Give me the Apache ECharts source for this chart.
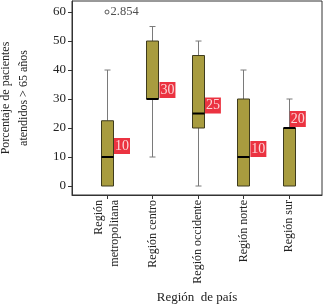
<!DOCTYPE html>
<html>
<head>
<meta charset="utf-8">
<script src="https://cdn.jsdelivr.net/npm/echarts@6/dist/echarts.min.js"></script>
<style>
  html, body { margin: 0; padding: 0; background: #fff; }
  #chart { width: 325px; height: 305px; }
</style>
</head>
<body>
<div id="chart"></div>
<script>
const categories = ['Región\nmetropolitana', 'Región centro', 'Región occidente', 'Región norte', 'Región sur']
const mins = [0, 10, 0, 0, 0]
const q1s = [0, 30, 20, 0, 0]
const medians = [10, 30, 25, 10, 20]
const q3s = [22.5, 50, 45, 30, 20]
const maxs = [40, 55, 50, 40, 30]
const medianLabels = ['10', '30', '25', '10', '20']
const outliers = [[0, 60]]
const outlierLabels = ['2.854']
const yTickValues = [0, 10, 20, 30, 40, 50, 60]
const xTickValues = [0, 1, 2, 3, 4]

const serif = '"Liberation Serif", "DejaVu Serif", serif'
const boxFill = '#a89c3f'
const boxBorder = '#3e3b1e'
const whiskerColor = '#7a7a7a'

// label offsets (px) tweaked per box to sit where the original put them
const labelOffsets = [[0, -11], [0, -9], [0, -8], [0, -8], [-6, -9]]

const boxData = categories.map((c, i) => [i, mins[i], q1s[i], medians[i], q3s[i], maxs[i]])

const renderBox = (params, api) => {
  const i = api.value(0)
  const pMin = api.coord([i, api.value(1)])
  const pQ1 = api.coord([i, api.value(2)])
  const pMed = api.coord([i, api.value(3)])
  const pQ3 = api.coord([i, api.value(4)])
  const pMax = api.coord([i, api.value(5)])
  const cx = Math.round(pMed[0]) + 0.5
  const half = 6
  const cap = 3
  const children = []
  const whisker = { stroke: whiskerColor, lineWidth: 1 }
  if (pMax[1] < pQ3[1]) {
    children.push({ type: 'line', shape: { x1: cx, y1: pMax[1], x2: cx, y2: pQ3[1] }, style: whisker })
    children.push({ type: 'line', shape: { x1: cx - cap, y1: pMax[1], x2: cx + cap, y2: pMax[1] }, style: whisker })
  }
  if (pMin[1] > pQ1[1]) {
    children.push({ type: 'line', shape: { x1: cx, y1: pQ1[1], x2: cx, y2: pMin[1] }, style: whisker })
    children.push({ type: 'line', shape: { x1: cx - cap, y1: pMin[1], x2: cx + cap, y2: pMin[1] }, style: whisker })
  }
  children.push({
    type: 'rect',
    shape: { x: cx - half, y: pQ3[1], width: half * 2, height: pQ1[1] - pQ3[1] },
    style: { fill: boxFill, stroke: boxBorder, lineWidth: 1 }
  })
  children.push({
    type: 'line',
    shape: { x1: cx - half, y1: pMed[1], x2: cx + half, y2: pMed[1] },
    style: { stroke: '#000', lineWidth: 2 }
  })
  return { type: 'group', children }
}

const chart = echarts.init(document.getElementById('chart'))

chart.setOption({
  animation: false,
  grid: {
    left: 72,
    top: 1,
    right: 3,
    bottom: 110,
    outerBoundsMode: 'none',
    containLabel: false,
    show: true,
    borderColor: '#333',
    borderWidth: 1,
    backgroundColor: 'transparent'
  },
  xAxis: {
    type: 'value',
    min: -0.77,
    max: 4.73,
    name: 'Región  de país',
    nameLocation: 'middle',
    nameGap: 88,
    nameTextStyle: { fontFamily: serif, fontSize: 13, color: '#222' },
    axisLine: { show: true, onZero: false, lineStyle: { color: '#333' } },
    axisTick: { show: true, length: 4, customValues: xTickValues, lineStyle: { color: '#333' } },
    axisLabel: {
      rotate: 90,
      margin: 5,
      fontFamily: serif,
      fontSize: 12,
      color: '#222',
      lineHeight: 16,
      customValues: xTickValues,
      formatter: (v) => categories[Math.round(v)]
    },
    splitLine: { show: false }
  },
  yAxis: {
    type: 'value',
    min: -3.1,
    max: 63.8,
    name: 'Porcentaje de pacientes\natendidos > 65 años',
    nameLocation: 'middle',
    nameGap: 39,
    nameTextStyle: { fontFamily: serif, fontSize: 12, color: '#222', lineHeight: 18 },
    axisLine: { show: true, onZero: false, lineStyle: { color: '#333' } },
    axisTick: { show: true, length: 4, customValues: yTickValues, lineStyle: { color: '#333' } },
    axisLabel: { margin: 6, fontFamily: serif, fontSize: 13, color: '#222', customValues: yTickValues },
    splitLine: { show: false }
  },
  series: [
    {
      type: 'custom',
      data: boxData,
      encode: { x: 0, y: [1, 2, 3, 4, 5] },
      renderItem: renderBox
    },
    {
      type: 'scatter',
      symbolSize: 0,
      z: 5,
      data: medians.map((m, i) => ({
        value: [i, m],
        label: { offset: labelOffsets[i], formatter: medianLabels[i] }
      })),
      label: {
        show: true,
        position: 'right',
        distance: 7,
        backgroundColor: '#e60012',
        color: '#fff',
        fontFamily: serif,
        fontSize: 14,
        padding: [1, 1, 0, 1],
        lineHeight: 15
      }
    },
    {
      type: 'scatter',
      symbol: 'circle',
      symbolSize: 4,
      z: 5,
      itemStyle: { color: '#fff', borderColor: '#333', borderWidth: 1 },
      data: outliers.map((o, i) => ({ value: o, label: { formatter: outlierLabels[i] } })),
      label: {
        show: true,
        position: 'right',
        distance: 1,
        fontFamily: serif,
        fontSize: 12.5,
        color: '#222'
      }
    }
  ]
})
</script>
</body>
</html>
